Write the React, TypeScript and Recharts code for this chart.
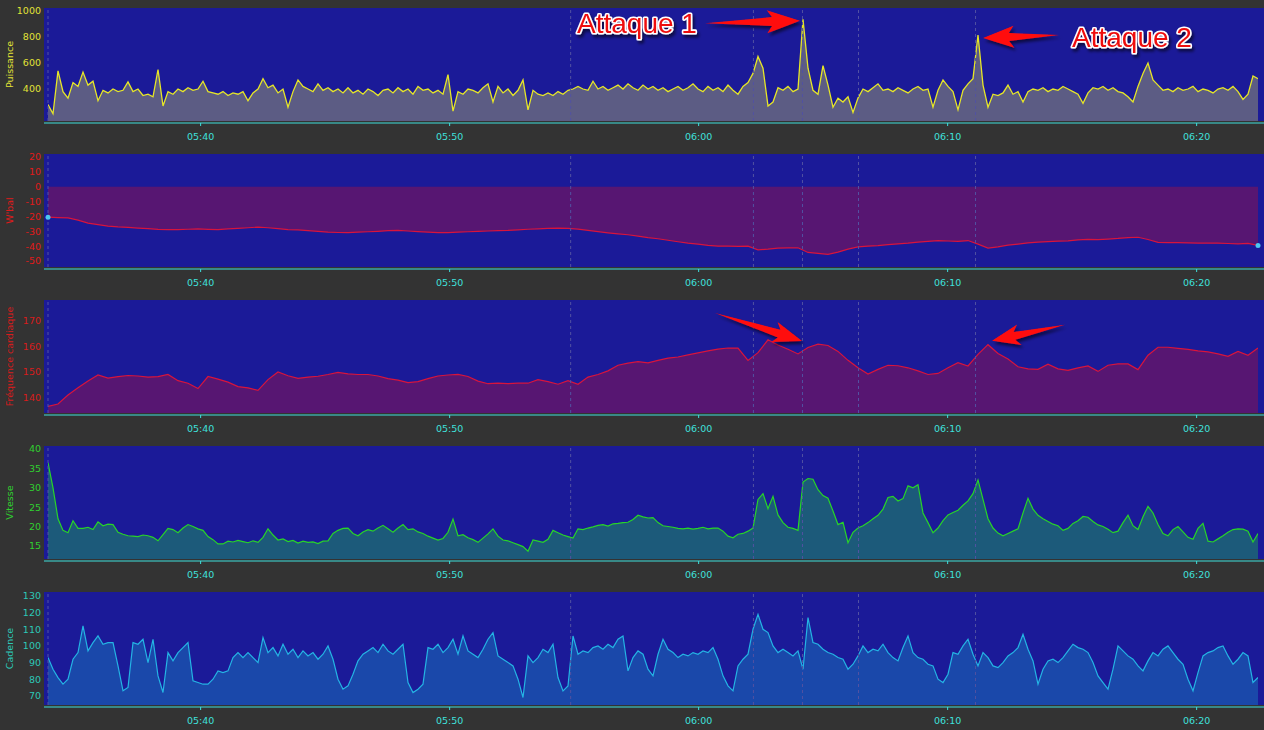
import React from 'react';
import { AreaChart, Area, XAxis, YAxis, CartesianGrid, ReferenceLine, ReferenceDot } from 'recharts';

// ---------- time axis (minutes after 05:30) ----------
const T0 = 3.87; // 05:33:52
const DT_FINE = 0.2008;
const DT_COARSE = 0.4016;
const T_END = T0 + 242 * DT_FINE;
const timeTicks = [10, 20, 30, 40, 50];
const lapMarkers = [3.87, 24.86, 32.2, 34.17, 36.42, 41.12];

// ---------- series values ----------
const powerValues = [
  280, 210, 540, 380, 330, 450, 420, 530, 430, 460,
  310, 390, 370, 400, 380, 390, 455, 380, 400, 350,
  360, 340, 550, 270, 380, 360, 400, 380, 410, 390,
  400, 460, 380, 370, 360, 380, 350, 370, 360, 380,
  310, 370, 400, 480, 410, 430, 370, 400, 260, 380,
  470, 420, 400, 380, 440, 390, 410, 380, 400, 370,
  410, 370, 390, 360, 400, 380, 350, 390, 400, 370,
  410, 380, 400, 360, 420, 390, 400, 370, 390, 360,
  510, 230, 380, 360, 400, 390, 370, 410, 440, 300,
  420, 370, 400, 350, 390, 470, 240, 390, 360, 350,
  370, 350, 380, 360, 390, 400, 420, 400, 390, 460,
  400, 420, 390, 410, 430, 400, 440, 410, 390, 430,
  400, 420, 390, 410, 380, 400, 420, 390, 410, 440,
  400, 380, 420, 390, 410, 380, 430, 390, 360, 420,
  450, 520, 650, 560, 270, 300, 410, 390, 420, 380,
  400, 936, 560, 390, 360, 580, 430, 260, 330, 300,
  340, 220, 330, 400, 380, 410, 440, 390, 400, 380,
  410, 390, 370, 400, 420, 390, 400, 260, 390, 470,
  420, 380, 240, 390, 440, 480, 815, 430, 260, 360,
  350, 370, 430, 360, 380, 300, 380, 400, 390, 410,
  380, 400, 390, 420, 400, 380, 360, 290, 370, 410,
  400, 420, 390, 410, 380, 370, 340, 300, 420, 520,
  600, 470, 430, 390, 400, 380, 410, 390, 400, 420,
  380, 400, 390, 370, 400, 410, 390, 420, 380, 320,
  360, 500, 480,
];

const wbalValues = [
  -20.5, -20.8, -21, -22.5, -24.5, -25.5, -26.5, -27, -27.3, -27.8,
  -28.2, -28.7, -28.9, -28.8, -28.6, -28.4, -28.7, -28.9, -28.3, -28,
  -27.6, -27.2, -27.6, -28.2, -28.8, -29, -29.5, -30, -30.5, -30.8,
  -30.9, -30.6, -30.3, -30, -29.6, -29.4, -29.8, -30.2, -30.6, -30.9,
  -30.9, -30.6, -30.3, -30, -29.8, -29.6, -29.4, -29, -28.6, -28.3,
  -28, -27.8, -28, -28.5, -29.4, -30.2, -31, -31.7, -32.3, -33.2,
  -34.2, -35, -36, -37, -37.9, -38.6, -39.4, -40, -40, -40.1,
  -40, -42.5, -42, -41.3, -41.2, -41.1, -44.2, -44.8, -45.5, -44,
  -42, -40.5, -40, -39.6, -39, -38.5, -38, -37.3, -36.7, -36.3,
  -36.5, -36.8, -36.2, -38.6, -41.3, -40.5, -39.3, -38.6, -37.8, -37.3,
  -37, -36.6, -36.4, -35.8, -35.4, -35.6, -35.2, -34.8, -34.2, -34,
  -35.5, -37.4, -37.6, -37.6, -37.8, -37.9, -37.9, -38, -38.2, -38.4,
  -38.1, -39.5,
];

const hrValues = [
  136.6, 137.5, 141, 143.8, 146.5, 148.8, 147.6, 148.2, 148.6, 148.4,
  148, 148.2, 149, 146.6, 145.6, 143.5, 148.2, 147.2, 146, 144.3,
  143.8, 142.8, 147, 150, 148.5, 147.5, 148, 148.3, 149, 149.8,
  149.2, 149, 149, 148.4, 147.4, 146.8, 145.8, 146.2, 147.4, 148.4,
  148.8, 149, 148.2, 146.4, 145.4, 145.6, 145.4, 145.6, 145.6, 147,
  146.2, 145.2, 146.6, 145.2, 148, 149, 150.4, 152.6, 153.4, 154,
  153.5, 154.5, 155.4, 155.8, 156.6, 157.4, 158.2, 158.9, 159.3, 159.3,
  154.5, 157.5, 162.5, 160.5, 158.8, 157, 159.5, 160.8, 160.3, 158,
  154.5, 151.6, 149.2, 151, 152.6, 152.4, 151.6, 150.4, 149, 149.4,
  151.6, 153.6, 152.3, 156.8, 160.6, 157.2, 155, 152, 151.2, 151,
  153, 151.2, 150.6, 151.6, 152.3, 150.2, 152.6, 153.1, 153.1, 150.9,
  156.5, 159.6, 159.6, 159.2, 158.8, 158.2, 157.8, 157, 156.1, 158,
  156.5, 159.3,
];

const speedValues = [
  36.5, 30, 22, 19, 18.4, 21.5, 19.5, 19.5, 19.8, 19.2,
  21.2, 20.2, 20.6, 20.5, 18.5, 18, 17.6, 17.5, 17.4, 17.8,
  17.6, 17.2, 16.3, 17.9, 19.5, 19.2, 18.4, 19.6, 20.5, 20,
  19.4, 19, 17.4, 16.6, 15.5, 15.5, 16.2, 16, 16.4, 16.1,
  15.8, 16.3, 15.9, 17.2, 19.4, 17.8, 16.5, 16.8, 16.1, 16.4,
  15.7, 16.2, 15.9, 16, 15.6, 16.2, 16.3, 18.2, 19, 19.5,
  19.6, 18.2, 17.6, 18.6, 19.2, 18.8, 19.6, 20.3, 19.4, 18.5,
  19.6, 20.5, 19.2, 19.4, 18.6, 18.2, 17.5, 17, 16.5, 16.9,
  18.5, 21.9, 17.6, 17.9, 17.1, 16.6, 15.9, 17, 18.1, 19.4,
  17.5, 16.5, 16.3, 15.8, 15.3, 14.8, 13.6, 16.5, 16.2, 15.9,
  16.7, 19, 18.4, 17.8, 17.4, 17, 19.4, 19.2, 19.6, 19.9,
  20.3, 20.5, 20.1, 20.7, 20.8, 21, 21.1, 21.8, 22.9, 22.5,
  22.2, 22.3, 21, 20.2, 20, 19.8, 19.5, 19.4, 19.6, 19.3,
  19.5, 19.8, 19.4, 19.6, 19.6, 18.8, 17.5, 17.1, 18, 18.2,
  18.8, 19.6, 27, 28.5, 24.6, 27.8, 23, 21, 19.8, 19.5,
  19, 31.5, 32.4, 32.2, 29.5, 28, 27.3, 24, 20.5, 21.1,
  15.8, 18.5, 19.6, 20.2, 21, 22, 22.9, 24.5, 27.5, 27.8,
  26.6, 27.2, 30.5, 30, 30.8, 23.5, 21, 18.4, 19.6, 21.5,
  23, 23.6, 24.2, 25.5, 26.6, 28.5, 32, 27, 22, 19.6,
  18.3, 17.6, 18.2, 18.8, 19.4, 23.5, 27.3, 24.5, 22.9, 22,
  21.3, 20.6, 20.2, 19, 19.5, 20.8, 21.5, 22.6, 22.4, 21.3,
  20.4, 20, 19.3, 18.4, 18.8, 21, 22.9, 20.2, 19.2, 22.5,
  25.2, 23.5, 20.5, 18.2, 17.6, 19.2, 20, 18.6, 17.2, 16.7,
  19.5, 20.8, 16.2, 16, 16.8, 17.6, 18.5, 19.2, 19.4, 19.3,
  18.8, 16, 18.2,
];

const cadenceValues = [
  93, 86, 81, 77, 80, 92, 96, 112, 97, 102,
  106, 101, 102, 102, 88, 73, 75, 102, 101, 104,
  90, 104, 82, 72, 96, 91, 96, 99, 102, 79,
  78, 77, 77, 80, 85, 84, 85, 93, 96, 93,
  96, 93, 90, 105, 96, 99, 94, 101, 95, 98,
  93, 97, 94, 96, 92, 95, 100, 92, 80, 74,
  76, 83, 91, 95, 97, 99, 96, 101, 97, 95,
  98, 101, 78, 72, 74, 77, 99, 98, 101, 96,
  99, 104, 95, 106, 97, 95, 93, 98, 104, 108,
  94, 92, 90, 88, 80, 69, 94, 90, 93, 98,
  96, 101, 81, 73, 76, 106, 95, 97, 96, 99,
  100, 98, 101, 99, 104, 106, 85, 93, 97, 95,
  86, 82, 95, 104, 98, 96, 93, 95, 94, 96,
  95, 97, 96, 99, 92, 82, 76, 73, 88, 92,
  95, 110, 119, 110, 108, 100, 96, 98, 96, 94,
  97, 86, 117, 102, 101, 98, 96, 95, 93, 92,
  86, 89, 94, 100, 96, 98, 97, 101, 96, 93,
  91, 99, 106, 96, 93, 92, 89, 88, 80, 78,
  83, 96, 95, 100, 104, 95, 88, 96, 93, 88,
  87, 90, 94, 96, 99, 107, 98, 91, 77, 86,
  91, 92, 90, 93, 97, 101, 99, 98, 96, 90,
  82, 78, 74, 86, 100, 97, 94, 92, 88, 85,
  91, 96, 94, 98, 100, 96, 92, 89, 80, 73,
  84, 94, 96, 97, 99, 100, 94, 89, 92, 96,
  94, 78, 81,
];

// ---------- axis ticks ----------
const powerTicks = [400, 600, 800, 1000];
const wbalTicks = [-50, -40, -30, -20, -10, 0, 10, 20];
const hrTicks = [140, 150, 160, 170];
const speedTicks = [15, 20, 25, 30, 35, 40];
const cadenceTicks = [70, 80, 90, 100, 110, 120, 130];

// annotation anchors (indices into series)
const attack1Index = 151;
const attack2Index = 186;
const hrArrow1Index = 75;
const hrArrow2Index = 94;

// ---------- styling ----------
const FONT = '"DejaVu Sans", Verdana, sans-serif';
const PAGE_BG = '#333333';
const PLOT_BG = '#1b1a98';
const AXIS = '#3fe0dc';
const MARKER = '#5252a2';
const PANEL_H = 146;

const toRows = (vals: number[], dt: number) => vals.map((v, i) => ({ t: T0 + i * dt, v }));
const powerRows = toRows(powerValues, DT_FINE);
const wbalRows = toRows(wbalValues, DT_COARSE);
const hrRows = toRows(hrValues, DT_COARSE);
const speedRows = toRows(speedValues, DT_FINE);
const cadenceRows = toRows(cadenceValues, DT_FINE);

const fmtTime = (t: number) => {
  const m = Math.round(330 + t);
  const h = Math.floor(m / 60);
  const mm = m % 60;
  return `${String(h).padStart(2, '0')}:${String(mm).padStart(2, '0')}`;
};

const AxisTitle = (props: any) => {
  const { viewBox, titleText, titleColor } = props;
  const vb = viewBox && viewBox.height ? viewBox : { x: 0, y: 8, width: 44, height: 113 };
  const x = 13;
  const y = vb.y + vb.height / 2;
  return (
    <text x={x} y={y} transform={`rotate(-90 ${x} ${y})`} textAnchor="middle" fill={titleColor} fontSize={9.5} fontFamily={FONT}>
      {titleText}
    </text>
  );
};

function arrowPoints(sx: number, sy: number, tx: number, ty: number, shaft: number, headW: number, headL: number) {
  const dx = tx - sx;
  const dy = ty - sy;
  const L = Math.hypot(dx, dy);
  const ux = dx / L, uy = dy / L;
  const nx = -uy, ny = ux;
  const p = (a: number, b: number) => `${(sx + ux * a + nx * b).toFixed(1)},${(sy + uy * a + ny * b).toFixed(1)}`;
  return [
    p(0, 0),
    p(L - headL, shaft / 2),
    p(L - headL - 5, headW / 2),
    p(L, 0),
    p(L - headL - 5, -headW / 2),
    p(L - headL, -shaft / 2),
  ].join(' ');
}

const Callout = (props: any) => {
  const { cx, cy, tip, tail, shaft, headW, headL, label, labelPos, fid } = props;
  if (cx == null || cy == null) return null;
  const pts = arrowPoints(cx + tail[0], cy + tail[1], cx + tip[0], cy + tip[1], shaft, headW, headL);
  return (
    <g>
      <defs>
        <filter id={fid} x="-30%" y="-60%" width="160%" height="220%">
          <feDropShadow dx="2" dy="3" stdDeviation="1.6" floodColor="#000" floodOpacity="0.55" />
        </filter>
      </defs>
      <polygon points={pts} fill="#ff1010" filter={`url(#${fid})`} />
      {label ? (
        <text
          x={cx + labelPos[0]}
          y={cy + labelPos[1]}
          fontFamily='"Liberation Sans", Arial, sans-serif'
          fontSize={28}
          fill="#ee1010"
          stroke="#ffffff"
          strokeWidth={3.2}
          strokeLinejoin="round"
          paintOrder="stroke"
          filter={`url(#${fid})`}
        >
          {label}
        </text>
      ) : null}
    </g>
  );
};

type PanelProps = {
  index: number;
  rows: { t: number; v: number }[];
  domain: [number, number];
  ticks: number[];
  labelColor: string;
  title: string;
  stroke: string;
  fill: string;
  strokeWidth?: number;
  baseValue?: number;
  extras?: React.ReactNode[];
};

function Panel({ index, rows, domain, ticks, labelColor, title, stroke, fill, strokeWidth = 1.2, baseValue, extras = [] }: PanelProps) {
  return (
    <div style={{ position: 'absolute', left: 0, top: index * PANEL_H, width: 1264, height: PANEL_H }}>
      <AreaChart width={1264} height={PANEL_H} data={rows} margin={{ top: 8, right: 0, bottom: 0, left: 0 }}>
        <CartesianGrid fill={PLOT_BG} fillOpacity={1} stroke="none" horizontal={false} vertical={false} />
        <XAxis
          type="number"
          dataKey="t"
          domain={[T0, T_END]}
          ticks={timeTicks}
          tickFormatter={fmtTime}
          interval={0}
          height={25}
          padding={{ left: 4, right: 6 }}
          axisLine={{ stroke: AXIS, strokeWidth: 1.2, transform: 'translate(0 2)' }}
          tickLine={{ stroke: AXIS, transform: 'translate(0 2)' }}
          tickSize={3}
          tickMargin={9}
          tick={{ fill: AXIS, fontSize: 9.5, fontFamily: FONT }}
          allowDataOverflow
        />
        <YAxis
          type="number"
          domain={domain}
          ticks={ticks}
          interval={0}
          width={44}
          axisLine={false}
          tickLine={false}
          tickSize={3}
          tickMargin={0}
          tick={{ fill: labelColor, fontSize: 9.5, fontFamily: FONT }}
          allowDataOverflow
          label={<AxisTitle titleText={title} titleColor={labelColor} />}
        />
        {lapMarkers.map((m) => (
          <ReferenceLine key={`m${m}`} x={m} stroke={MARKER} strokeDasharray="3 3" strokeWidth={1} />
        ))}
        <Area
          type="linear"
          dataKey="v"
          stroke={stroke}
          strokeWidth={strokeWidth}
          fill={fill}
          fillOpacity={1}
          baseValue={baseValue}
          dot={false}
          activeDot={false}
          isAnimationActive={false}
        />
        {extras}
      </AreaChart>
    </div>
  );
}

export default function App() {
  const a1 = powerRows[attack1Index];
  const a2 = powerRows[attack2Index];
  const h1 = hrRows[hrArrow1Index];
  const h2 = hrRows[hrArrow2Index];
  const wFirst = wbalRows[0];
  const wLast = wbalRows[wbalRows.length - 1];

  return (
    <div style={{ position: 'absolute', left: 0, top: 0, width: 1264, height: 730, background: PAGE_BG, overflow: 'hidden' }}>
      <Panel
        index={0}
        rows={powerRows}
        domain={[154, 1023]}
        ticks={powerTicks}
        labelColor="#e2e236"
        title="Puissance"
        stroke="#e6e628"
        fill="#5c5c84"
        strokeWidth={1.3}
        extras={[
          <ReferenceDot
            key="att1"
            x={a1.t}
            y={a1.v}
            r={0}
            ifOverflow="visible"
            shape={(p: any) => (
              <Callout {...p} fid="sh1" tip={[-3, 1.5]} tail={[-98, 4]} shaft={9} headW={23} headL={28} label="Attaque 1" labelPos={[-226, 14]} />
            )}
          />,
          <ReferenceDot
            key="att2"
            x={a2.t}
            y={a2.v}
            r={0}
            ifOverflow="visible"
            shape={(p: any) => (
              <Callout {...p} fid="sh2" tip={[5, 3]} tail={[81, 0]} shaft={8} headW={22} headL={26} label="Attaque 2" labelPos={[94, 12]} />
            )}
          />,
        ]}
      />
      <Panel
        index={1}
        rows={wbalRows}
        domain={[-54, 22]}
        ticks={wbalTicks}
        labelColor="#e01a1a"
        title="W'bal"
        stroke="#d8143c"
        fill="#571672"
        baseValue={0}
        extras={[
          <ReferenceDot key="w0" x={wFirst.t} y={wFirst.v} r={2.5} fill="#4cc8f0" stroke="none" ifOverflow="visible" />,
          <ReferenceDot key="w1" x={wLast.t} y={wLast.v} r={2.5} fill="#4cc8f0" stroke="none" ifOverflow="visible" />,
        ]}
      />
      <Panel
        index={2}
        rows={hrRows}
        domain={[134, 178]}
        ticks={hrTicks}
        labelColor="#d81c1c"
        title="Fréquence cardiaque"
        stroke="#d8143c"
        fill="#571672"
        extras={[
          <ReferenceDot
            key="hr1"
            x={h1.t}
            y={h1.v}
            r={0}
            ifOverflow="visible"
            shape={(p: any) => <Callout {...p} fid="sh3" tip={[4, -13]} tail={[-83, -41]} shaft={8} headW={21} headL={24} />}
          />,
          <ReferenceDot
            key="hr2"
            x={h2.t}
            y={h2.v}
            r={0}
            ifOverflow="visible"
            shape={(p: any) => <Callout {...p} fid="sh4" tip={[4, -4]} tail={[77, -20]} shaft={8} headW={21} headL={23} />}
          />,
        ]}
      />
      <Panel
        index={3}
        rows={speedRows}
        domain={[11.6, 40.8]}
        ticks={speedTicks}
        labelColor="#30d030"
        title="Vitesse"
        stroke="#28d428"
        fill="#1c5a7a"
      />
      <Panel
        index={4}
        rows={cadenceRows}
        domain={[64.5, 132.4]}
        ticks={cadenceTicks}
        labelColor="#2cc8b8"
        title="Cadence"
        stroke="#24b4e4"
        fill="#1a48aa"
      />
    </div>
  );
}
